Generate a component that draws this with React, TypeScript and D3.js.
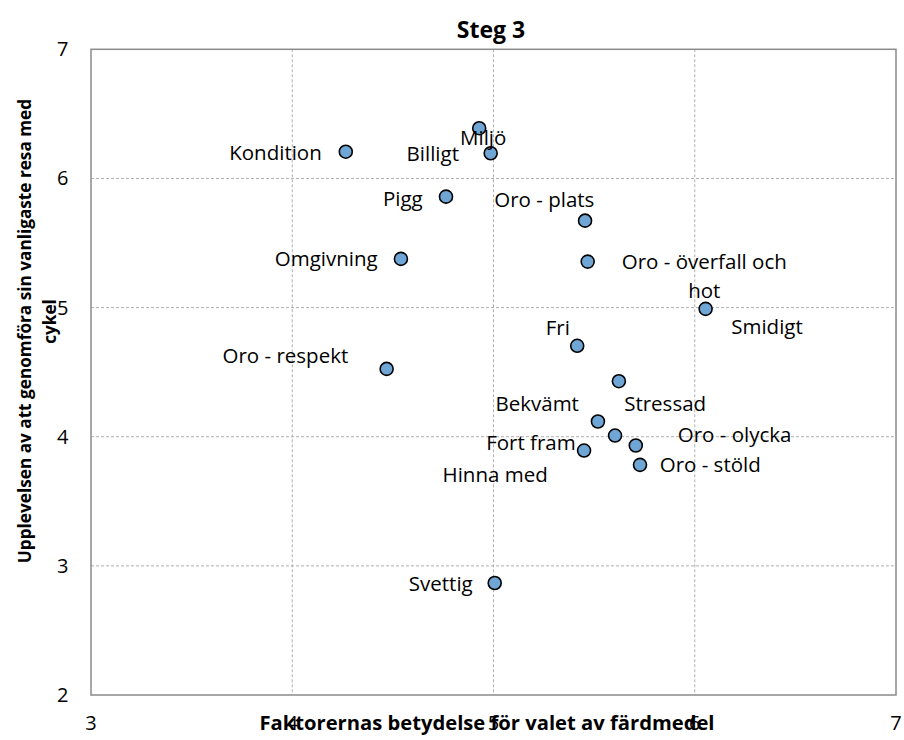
import React from "react";
import * as d3 from "d3";

const labels = [
  "Miljö", "Billigt", "Kondition", "Pigg", "Oro - plats", "Omgivning",
  "Oro - överfall och hot", "Smidigt", "Fri", "Oro - respekt", "Stressad",
  "Bekvämt", "Hinna med", "Oro - olycka", "Fort fram", "Oro - stöld", "Svettig",
];
const importance = [
  4.929, 4.986, 4.266, 4.764, 5.455, 4.54, 5.468, 6.054, 5.416, 4.469, 5.623,
  5.519, 5.604, 5.707, 5.45, 5.728, 5.006,
];
const experience = [
  6.389, 6.195, 6.207, 5.859, 5.673, 5.377, 5.356, 4.99, 4.704, 4.525, 4.43,
  4.118, 4.009, 3.932, 3.893, 3.782, 2.867,
];
const xTicks = [3, 4, 5, 6, 7];
const yTicks = [2, 3, 4, 5, 6, 7];

// label placement: [anchor, dx, dy(baseline)]
const labelPlacement: [string, number, number][] = [
  ["middle", 4, 16.7],
  ["end", -31.7, 8],
  ["end", -24, 8.3],
  ["end", -23.3, 9.3],
  ["end", 9.3, -13.4],
  ["end", -23.3, 7],
  ["middle", 116.6, 7.3],
  ["start", 25.6, 25],
  ["end", -7.3, -10.7],
  ["end", -38.4, -5.7],
  ["start", 5.3, 30.3],
  ["end", -19, -10.4],
  ["end", -67.3, 46],
  ["start", 42, -4],
  ["end", -8.3, -0.7],
  ["start", 19.7, 6.7],
  ["end", -22, 8.4],
];

const W = 904;
const H = 740;
const left = 91, right = 896, top = 49.3, bottom = 695;
const FONT = "'Open Sans', sans-serif";

export default function App() {
  const x = d3.scaleLinear().domain([3, 7]).range([left, right]);
  const y = d3.scaleLinear().domain([2, 7]).range([bottom, top]);

  return (
    <svg width={W} height={H} style={{ position: "absolute", left: 0, top: 0 }}>
      <rect x={0} y={0} width={W} height={H} fill="#ffffff" />
      {/* gridlines */}
      {xTicks.slice(1, -1).map((t) => (
        <line key={"gx" + t} x1={x(t)} x2={x(t)} y1={top} y2={bottom}
          stroke="#b0b0b0" strokeWidth={1} strokeDasharray="3,2" />
      ))}
      {yTicks.slice(1, -1).map((t) => (
        <line key={"gy" + t} x1={left} x2={right} y1={y(t)} y2={y(t)}
          stroke="#b0b0b0" strokeWidth={1} strokeDasharray="3,2" />
      ))}
      <rect x={left} y={top} width={right - left} height={bottom - top}
        fill="none" stroke="#8a8a8a" strokeWidth={1.5} />
      {/* y tick labels */}
      {yTicks.map((t) => (
        <text key={"ty" + t} x={68.5} y={y(t) + 7} textAnchor="end"
          fontFamily={FONT} fontSize={20} fill="#000">{t}</text>
      ))}
      {/* x tick labels */}
      {xTicks.map((t) => (
        <text key={"tx" + t} x={x(t)} y={729.5} textAnchor="middle"
          fontFamily={FONT} fontSize={20} fill="#000">{t}</text>
      ))}
      {/* title */}
      <text x={491} y={38} textAnchor="middle" fontFamily={FONT}
        fontWeight="bold" fontSize={23} fill="#000">Steg 3</text>
      {/* x axis title */}
      <text x={487} y={729.5} textAnchor="middle" fontFamily={FONT}
        fontWeight="bold" fontSize={20.2} fill="#000">
        Faktorernas betydelse för valet av färdmedel
      </text>
      {/* y axis title */}
      <text transform={`translate(31,331) rotate(-90)`} textAnchor="middle"
        fontFamily={FONT} fontWeight="bold" fontSize={17.2} fill="#000">
        Upplevelsen av att genomföra sin vanligaste resa med
      </text>
      <text transform={`translate(56,321.5) rotate(-90)`} textAnchor="middle"
        fontFamily={FONT} fontWeight="bold" fontSize={17.2} fill="#000">
        cykel
      </text>
      {/* points */}
      {importance.map((v, i) => (
        <circle key={"p" + i} cx={x(v)} cy={y(experience[i])} r={6.5}
          fill="#6fa6d6" stroke="#000" strokeWidth={1.6} />
      ))}
      {/* labels */}
      {labels.map((lab, i) => {
        const [anchor, dx, dy] = labelPlacement[i];
        const px = x(importance[i]);
        const py = y(experience[i]);
        if (lab === "Oro - överfall och hot") {
          return (
            <text key={"l" + i} textAnchor={anchor as any} fontFamily={FONT}
              fontSize={20.5} fill="#000">
              <tspan x={px + dx} y={py + dy}>Oro - överfall och</tspan>
              <tspan x={px + dx} y={py + dy + 28.7}>hot</tspan>
            </text>
          );
        }
        return (
          <text key={"l" + i} x={px + dx} y={py + dy} textAnchor={anchor as any}
            fontFamily={FONT} fontSize={20.5} fill="#000">{lab}</text>
        );
      })}
    </svg>
  );
}
